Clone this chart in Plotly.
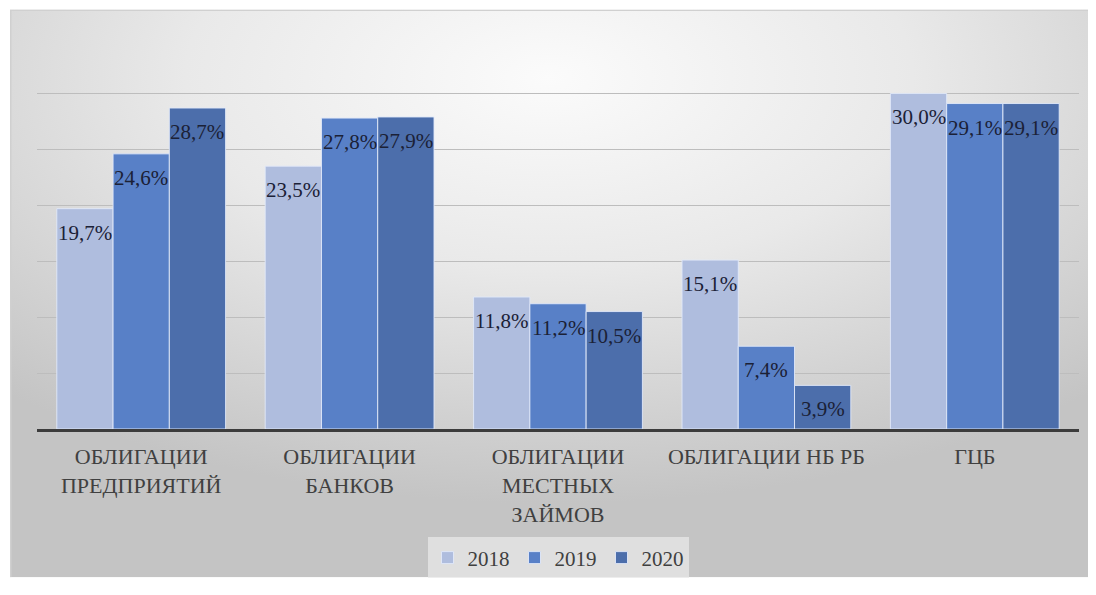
import base64
import plotly.graph_objects as go

categories = ["ОБЛИГАЦИИ<br>ПРЕДПРИЯТИЙ", "ОБЛИГАЦИИ<br>БАНКОВ", "ОБЛИГАЦИИ<br>МЕСТНЫХ<br>ЗАЙМОВ",
              "ОБЛИГАЦИИ НБ РБ", "ГЦБ"]
years = ["2018", "2019", "2020"]
v2018 = [19.7, 23.5, 11.8, 15.1, 30.0]
v2019 = [24.6, 27.8, 11.2, 7.4, 29.1]
v2020 = [28.7, 27.9, 10.5, 3.9, 29.1]
series = [v2018, v2019, v2020]
colors = ["#AFBDDE", "#5880C7", "#4C6EAB"]

FONT = "Liberation Serif"
BARGAP = 0.19

fig = go.Figure()
for name, vals, col in zip(years, series, colors):
    fig.add_trace(go.Bar(
        x=list(range(len(categories))), y=vals, name=name,
        marker=dict(color=col, line=dict(color="rgba(225,233,250,0.9)", width=1)),
        hoverinfo="skip",
    ))

# data labels (inside end, Excel style)
w = (1 - BARGAP) / len(series)
ann = []
for j, vals in enumerate(series):
    for i, v in enumerate(vals):
        ann.append(dict(
            x=i + (j - (len(series) - 1) / 2) * w, y=v, xref="x", yref="y",
            text=f"{v:.1f}%".replace(".", ","), showarrow=False,
            yshift=-24, xanchor="center", yanchor="middle",
            font=dict(family=FONT, size=21, color="#1b2136"),
        ))

svg = ('<svg xmlns="http://www.w3.org/2000/svg" width="1086" height="586" '
       'preserveAspectRatio="none" viewBox="0 0 1086 586">'
       '<defs><radialGradient id="g" cx="0.5" cy="0.12" r="0.75" fx="0.5" fy="0.12">'
       '<stop offset="0" stop-color="#FBFBFB"/>'
       '<stop offset="0.45" stop-color="#E9E9E9"/>'
       '<stop offset="1" stop-color="#C4C4C4"/>'
       '</radialGradient></defs>'
       '<rect x="0" y="0" width="1086" height="586" fill="url(#g)"/>'
       '<path d="M0.75 586 V0.75 H1086" fill="none" stroke="#D0D0D0" stroke-width="1.5"/>'
       '</svg>')
src = "data:image/svg+xml;base64," + base64.b64encode(svg.encode()).decode()

# page has an 8px body margin: figure sits at (8, 8) and must fit the window
OFF = 8
W, H = 1096 - 2 * OFF, 595 - 2 * OFF
L, T = 37 - OFF, 37 - OFF
R = W - (1079 - OFF)
B = H - (436 - OFF)
pw, ph = W - L - R, H - T - B
img = dict(source=src, xref="paper", yref="paper",
           x=(10 - OFF - L) / pw, y=(H - B - (9 - OFF)) / ph,
           sizex=(W - (10 - OFF)) / pw, sizey=(H - (9 - OFF)) / ph,
           sizing="stretch", layer="below", xanchor="left", yanchor="top")

fig.update_layout(
    width=W, height=H,
    margin=dict(l=L, r=R, t=T, b=B),
    paper_bgcolor="white", plot_bgcolor="rgba(0,0,0,0)",
    barmode="group", bargap=BARGAP, bargroupgap=0,
    images=[img], annotations=ann,
    font=dict(family=FONT, size=20, color="#404040"),
    showlegend=True,
    legend=dict(orientation="h", x=0.5, xanchor="center", y=-0.329, yanchor="middle",
                bgcolor="rgba(232,232,232,0.75)", font=dict(family=FONT, size=21, color="#404040"),
                itemwidth=30, traceorder="normal"),
    xaxis=dict(tickmode="array", tickvals=list(range(len(categories))), ticktext=categories,
               range=[-0.5, len(categories) - 0.5], automargin=False,
               showline=True, linecolor="#3c3c3c", linewidth=3, ticks="",
               ticklabelstandoff=6,
               tickfont=dict(family=FONT, size=22, color="#404040"), showgrid=False),
    yaxis=dict(range=[0, 35.05], tickvals=[5, 10, 15, 20, 25, 30, 35], showticklabels=False,
               automargin=False,
               showgrid=True, gridcolor="#BDBDBD", gridwidth=1, zeroline=False),
)

fig.write_html("out.html")
